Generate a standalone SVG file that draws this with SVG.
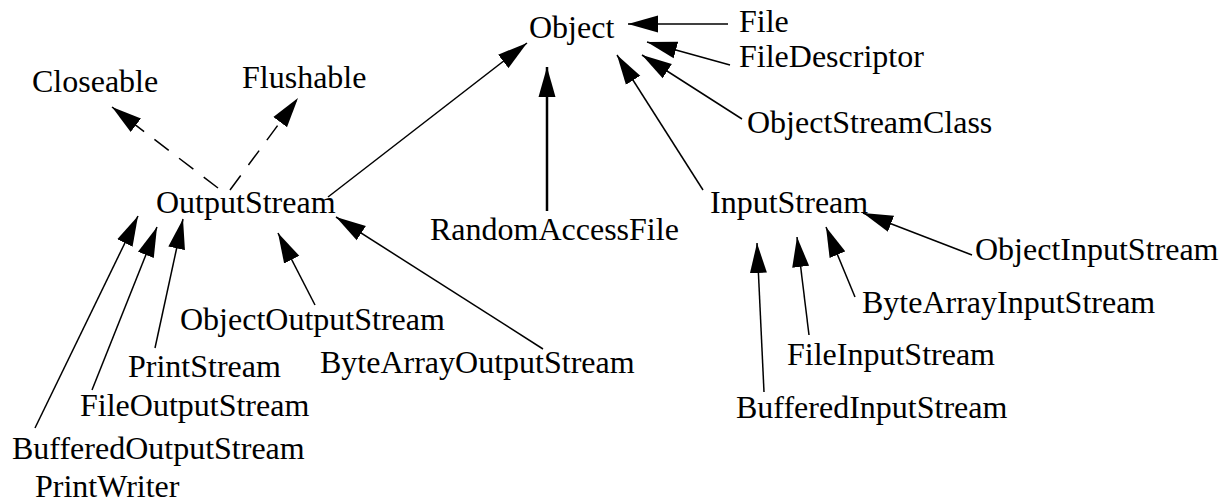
<svg xmlns="http://www.w3.org/2000/svg" width="1228" height="502" viewBox="0 0 1228 502">
  <style>
    .lbl { font-family: "Liberation Serif", "Times New Roman", serif; font-size: 32px; fill: #000; }
    .edge { stroke: #000; stroke-width: 1.5; fill: none; marker-end: url(#head); }
    .thick { stroke-width: 2.5; }
    .dash { stroke-dasharray: 18 13; }
  </style>
  <defs>
    <marker id="head" markerUnits="userSpaceOnUse" markerWidth="31" markerHeight="18" refX="30" refY="9" orient="auto">
      <path d="M0,0.5 L30,9 L0,17.5 Z" fill="#000"/>
    </marker>
  </defs>

  <!-- class names -->
  <g id="object"><text class="lbl" x="529" y="38">Object</text></g>
  <g id="file"><text class="lbl" x="739" y="32">File</text></g>
  <g id="file-descriptor"><text class="lbl" x="739" y="67">FileDescriptor</text></g>
  <g id="object-stream-class"><text class="lbl" x="747" y="133">ObjectStreamClass</text></g>
  <g id="closeable"><text class="lbl" x="32" y="92">Closeable</text></g>
  <g id="flushable"><text class="lbl" x="242" y="88">Flushable</text></g>
  <g id="output-stream"><text class="lbl" x="156" y="213">OutputStream</text></g>
  <g id="random-access-file"><text class="lbl" x="430" y="240">RandomAccessFile</text></g>
  <g id="input-stream"><text class="lbl" x="710" y="213">InputStream</text></g>
  <g id="object-input-stream"><text class="lbl" x="975" y="260">ObjectInputStream</text></g>
  <g id="byte-array-input-stream"><text class="lbl" x="862" y="313">ByteArrayInputStream</text></g>
  <g id="file-input-stream"><text class="lbl" x="787" y="365">FileInputStream</text></g>
  <g id="buffered-input-stream"><text class="lbl" x="736" y="418">BufferedInputStream</text></g>
  <g id="object-output-stream"><text class="lbl" x="180" y="330">ObjectOutputStream</text></g>
  <g id="byte-array-output-stream"><text class="lbl" x="320" y="373">ByteArrayOutputStream</text></g>
  <g id="print-stream"><text class="lbl" x="128" y="377">PrintStream</text></g>
  <g id="file-output-stream"><text class="lbl" x="80" y="416">FileOutputStream</text></g>
  <g id="buffered-output-stream"><text class="lbl" x="12" y="459">BufferedOutputStream</text></g>
  <g id="print-writer"><text class="lbl" x="35" y="497">PrintWriter</text></g>

  <!-- inheritance arrows -->
  <g id="connectors">
    <line class="edge" x1="728" y1="24" x2="628" y2="24"/>
    <line class="edge" x1="730" y1="65" x2="647" y2="42"/>
    <line class="edge" x1="742" y1="119" x2="642" y2="55"/>
    <line class="edge" x1="703" y1="190" x2="617" y2="55"/>
    <line class="edge thick" x1="547" y1="211" x2="547" y2="67"/>
    <line class="edge" x1="328" y1="197" x2="527" y2="43"/>
    <line class="edge dash" x1="218" y1="188" x2="112" y2="107"/>
    <line class="edge dash" x1="230" y1="190" x2="298" y2="98"/>
    <line class="edge" x1="35" y1="428" x2="138" y2="216"/>
    <line class="edge" x1="92" y1="390" x2="157" y2="227"/>
    <line class="edge" x1="155" y1="348" x2="183" y2="219"/>
    <line class="edge" x1="315" y1="305" x2="278" y2="233"/>
    <line class="edge" x1="543" y1="349" x2="336" y2="217"/>
    <line class="edge" x1="972" y1="255" x2="863" y2="213"/>
    <line class="edge" x1="855" y1="297" x2="826" y2="227"/>
    <line class="edge" x1="809" y1="335" x2="797" y2="237"/>
    <line class="edge" x1="764" y1="392" x2="757" y2="243"/>
  </g>
</svg>
